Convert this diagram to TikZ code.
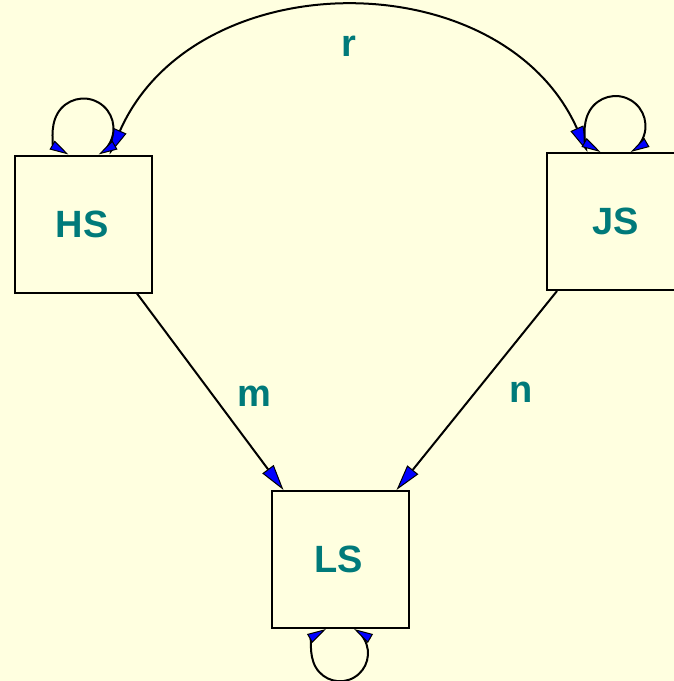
\documentclass[tikz,border=0pt]{standalone}
\usepackage{fontspec}
\setmainfont{Liberation Sans}
\usetikzlibrary{arrows.meta}
\definecolor{bg}{RGB}{255,255,224}
\definecolor{teal}{RGB}{0,122,122}
\begin{document}
\begin{tikzpicture}[x=1pt,y=-1pt,
  box/.style={draw=black,line width=2pt,minimum width=137pt,minimum height=137pt,inner sep=0pt,
    font=\fontsize{38}{40}\selectfont\bfseries,text=teal},
  lab/.style={font=\fontsize{38}{40}\selectfont\bfseries,text=teal,inner sep=0pt},
  bigtip/.tip={Triangle[length=26pt,width=14pt,fill=blue,line width=1pt]},
  smalltip/.tip={Triangle[length=19pt,width=10pt,fill=blue,line width=1pt]},
  conn/.style={draw=black,line width=2pt,-bigtip},
  both/.style={draw=black,line width=2pt,bigtip-bigtip},
  selfloop/.style={draw=black,line width=2pt,smalltip-smalltip}]
\fill[bg] (0,0) rectangle (674,681);
\useasboundingbox (0,0) rectangle (674,681);
\node[box] (HS) at (83.5,224) {\hspace*{-3pt}HS};
\node[box] (JS) at (615.5,221.5) {JS};
\node[box] (LS) at (340,559.5) {\hspace*{-3pt}LS};
% labels
\node[lab] (r) at (349,46) {r};
\node[lab] (m) at (254,396) {m};
\node[lab] (n) at (521,392) {n};
% connectors
\draw[conn] ([xshift=-16pt]HS.south east) -- ([xshift=13pt]LS.north west);
\draw[conn] ([xshift=11pt]JS.south west) -- ([xshift=-13pt]LS.north east);
\draw[both] ([xshift=26pt]HS.north) .. controls (195,-39) and (502,-39) .. ([xshift=-28pt]JS.north);
% self loops
\coordinate (hsl) at ([xshift=-15pt]HS.north);
\coordinate (jsl) at ([xshift=-15pt]JS.north);
\coordinate (lsl) at ([xshift=-14pt]LS.south);
\draw[selfloop] (hsl) arc[start angle=120,end angle=420,radius=30];
\draw[selfloop] (jsl) arc[start angle=120,end angle=420,radius=30];
\draw[selfloop] (lsl) arc[start angle=240,end angle=-60,radius=28];
\end{tikzpicture}
\end{document}
